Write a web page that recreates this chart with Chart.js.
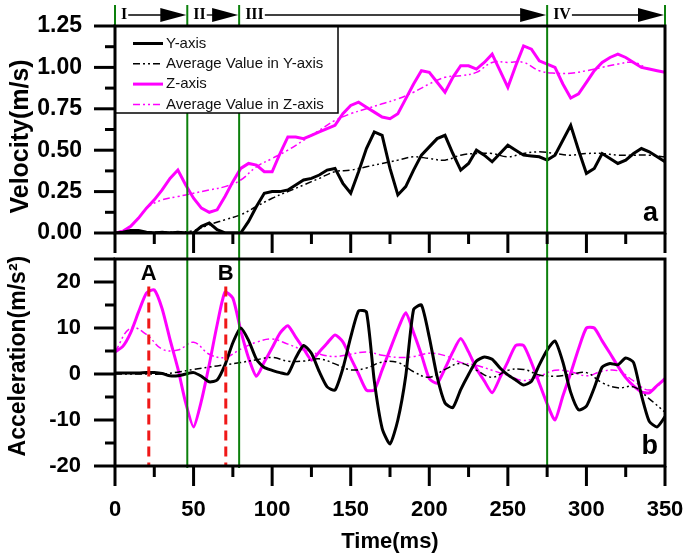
<!DOCTYPE html>
<html lang="en">
<head>
<meta charset="UTF-8">
<title>Velocity and Acceleration</title>
<script src="https://cdn.jsdelivr.net/npm/chart.js"></script>
<style>
  body { margin: 0; background: #fff; }
  .wrap { position: relative; width: 685px; height: 556px; }
  #velChart { position: absolute; left: 0; top: 0; }
  #accChart { position: absolute; left: 0; top: 256px; }
</style>
</head>
<body>
<div class="wrap">
  <canvas id="velChart" width="685" height="256"></canvas>
  <canvas id="accChart" width="685" height="300"></canvas>
</div>
<script>
// sample times (ms)
const timeMs = [0,5,10,15,20,25,30,35,40,45,50,55,60,65,70,75,80,85,90,95,
  100,105,110,115,120,125,130,135,140,145,150,155,160,165,170,175,180,185,190,195,
  200,205,210,215,220,225,230,235,240,245,250,255,260,265,270,275,280,285,290,295,
  300,305,310,315,320,325,330,335,340,345,350];
const avgTimeMs = [0,10,20,30,40,50,60,70,80,90,100,110,120,130,140,150,160,170,
  180,190,200,210,220,230,240,250,260,270,280,290,300,310,320,330,340,350];

// velocity (m/s)
const velY = [0,0.005,0.015,0.015,0.005,0,0.005,0,0.005,0,
  0,0.04,0.06,0.02,0,0,0,0.07,0.16,0.24,
  0.25,0.25,0.26,0.29,0.32,0.33,0.35,0.38,0.39,0.3,
  0.24,0.37,0.51,0.61,0.59,0.39,0.23,0.28,0.38,0.47,
  0.52,0.57,0.59,0.48,0.38,0.42,0.5,0.47,0.43,0.48,
  0.53,0.5,0.47,0.465,0.46,0.44,0.47,0.56,0.65,0.5,
  0.36,0.39,0.48,0.45,0.42,0.44,0.48,0.51,0.49,0.46,
  0.43];
const velYAvg = [0,0.005,0.005,0.005,0.005,0.015,0.05,0.08,0.11,0.16,
  0.21,0.25,0.29,0.33,0.37,0.38,0.4,0.42,0.44,0.46,
  0.45,0.44,0.47,0.48,0.48,0.46,0.48,0.49,0.48,0.47,
  0.48,0.48,0.47,0.47,0.47,0.46];
const velZ = [0,0.01,0.04,0.09,0.15,0.2,0.26,0.33,0.38,0.29,
  0.21,0.15,0.125,0.14,0.22,0.31,0.39,0.42,0.41,0.37,
  0.37,0.48,0.58,0.58,0.57,0.59,0.61,0.63,0.65,0.72,
  0.77,0.79,0.76,0.73,0.7,0.69,0.72,0.81,0.9,0.98,
  0.97,0.91,0.85,0.94,1.01,1.01,0.99,1.03,1.08,0.98,
  0.88,1.01,1.13,1.11,1.04,1.02,1.0,0.9,0.815,0.84,
  0.91,0.98,1.03,1.06,1.08,1.06,1.03,1.0,0.99,0.98,
  0.97];
const velZAvg = [0,0.04,0.15,0.2,0.22,0.24,0.26,0.28,0.32,0.4,
  0.45,0.5,0.56,0.62,0.68,0.72,0.75,0.78,0.81,0.85,
  0.9,0.94,0.95,0.97,1.03,1.03,1.03,0.98,0.965,0.965,
  0.98,1.0,1.02,1.03,0.99,0.97];

// acceleration (m/s2)
const accY = [0.2,0.2,0.2,0.2,0.3,0.3,0.1,-0.4,-0.4,0,
  0.3,-0.5,-1.7,-1.3,2,6.8,10,7.3,3.2,1.4,
  0.8,0.3,0,3.5,6.2,4.5,0.5,-2.8,-3.5,1.2,
  8,13.7,13.5,-1.5,-11.8,-15.2,-10,-0.5,14,15,
  8,-0.6,-6.3,-7.3,-3.4,-0.1,2.8,3.7,3.2,1.3,
  -0.2,-1.3,-2.4,-1.6,2,5.2,7.2,2.6,-4,-7.8,
  -7,-3,1.5,2.3,2,3.5,2.5,-4.6,-10.3,-11.5,
  -9.3];
const accYAvg = [0,0,0,0,0.4,1,1.5,2,2.5,3.1,
  3.6,2.8,2.8,3.3,2.2,0.9,1.3,2.6,2.5,0.5,
  -0.7,1,2.3,0.8,-0.7,0.8,1,-0.2,-0.5,-0.1,
  0.3,-1.9,-3,-2.8,-5.4,-8.3];
const accZ = [4.8,6,9,13.5,17.6,18.3,14.2,7.5,1.2,-6.3,
  -11.5,-5.8,2.1,10.7,17.8,16.5,9.5,3.5,-0.5,2.6,
  5.7,8.9,10.5,8,5.5,3,4.8,6.7,8.5,7,
  3.5,0,-3.5,-3.5,0.9,5.3,9.7,13.3,9,4.2,
  -1,-2,1.2,4.8,7.7,4.8,1.2,-1.5,-4.1,-0.8,
  2.7,6.2,6.2,2.5,-2,-6.5,-10,-4.8,0.2,5.5,
  10,10,7.2,4.5,1.7,-0.8,-2.6,-3.9,-4.1,-2.5,
  -1];
const accZAvg = [4.8,10,8.6,5.4,5.2,6.9,4.3,3.6,5.4,6.9,
  7.6,6.5,5.2,4.3,3.8,4.3,4.8,4.1,3.6,3.8,
  4.5,4,2.5,1.9,0.8,-0.3,-1.4,-0.5,0.8,0.5,
  -0.4,0.6,0.7,-1.5,-3.5,-1.2];

const seriesNames = ['Y-axis', 'Average Value in Y-axis', 'Z-axis', 'Average Value in Z-axis'];
const phaseNames = ['I', 'II', 'III', 'IV'];
const phaseBounds = [0, 46, 79, 275, 350];
const peakNames = ['A', 'B'];
const peakTimes = [21.5, 70.5];

const SANS = '"Liberation Sans", Arial, sans-serif';
const SERIF = '"Liberation Serif", "Times New Roman", serif';
const MAGENTA = '#ff00ff';
const GREEN = '#0c800c';
const dashDotDot = [7, 3, 2, 3, 2, 3];

function line(label, xs, ys, color, width, dash, tension) {
  return {
    label: label,
    data: xs.map((t, i) => ({ x: t, y: ys[i] })),
    borderColor: color,
    borderWidth: width,
    borderDash: dash,
    pointRadius: 0,
    tension: tension,
    fill: false
  };
}

// fixed axis sizes, and no extra room for overhanging labels
function fixSize(w, h) {
  return s => {
    if (w !== null) s.width = w;
    if (h !== null) s.height = h;
    s.paddingTop = 0; s.paddingBottom = 0;
    s.paddingLeft = 0; s.paddingRight = 0;
  };
}

// ticks (major + minor) and the heavy frame
function drawFrame(chart, xStep, yStep) {
  const ctx = chart.ctx, a = chart.chartArea;
  const xs = chart.scales.x, ys = chart.scales.y;
  ctx.save();
  ctx.setLineDash([]);
  ctx.strokeStyle = '#000';
  ctx.lineWidth = 3;
  const nx = Math.round((xs.max - xs.min) / (xStep / 2));
  for (let i = 0; i <= nx; i++) {
    const px = xs.getPixelForValue(xs.min + i * xStep / 2);
    ctx.beginPath();
    ctx.moveTo(px, a.bottom);
    ctx.lineTo(px, a.bottom + (i % 2 === 0 ? 20 : 11));
    ctx.stroke();
  }
  const ny = Math.round((ys.max - ys.min) / (yStep / 2));
  for (let i = 0; i <= ny; i++) {
    const py = ys.getPixelForValue(ys.min + i * yStep / 2);
    const major = i % 2 === 0 || i === ny;
    ctx.beginPath();
    ctx.moveTo(a.left, py);
    ctx.lineTo(a.left - (major ? 21 : 10), py);
    ctx.stroke();
  }
  ctx.strokeRect(a.left, a.top, a.right - a.left, a.bottom - a.top);
  ctx.restore();
}

function drawGreen(chart, yTop, yBottom, withEnds) {
  const ctx = chart.ctx, xs = chart.scales.x, a = chart.chartArea;
  ctx.save();
  ctx.strokeStyle = GREEN;
  ctx.lineWidth = 2;
  ctx.beginPath();
  phaseBounds.forEach((t, i) => {
    const px = xs.getPixelForValue(t);
    const end = i === 0 || i === phaseBounds.length - 1;
    if (end && !withEnds) return;
    ctx.moveTo(px, yTop);
    ctx.lineTo(px, end ? a.top : yBottom);
  });
  ctx.stroke();
  ctx.restore();
}

function drawCorner(chart, letter) {
  const ctx = chart.ctx, a = chart.chartArea;
  ctx.save();
  ctx.fillStyle = '#000';
  ctx.font = 'bold 27px ' + SANS;
  ctx.textAlign = 'right';
  ctx.textBaseline = 'alphabetic';
  ctx.fillText(letter, a.right - 7, a.bottom - 12);
  ctx.restore();
}

const velDecor = {
  id: 'velDecor',
  afterDatasetsDraw(chart) {
    const ctx = chart.ctx, a = chart.chartArea, xs = chart.scales.x;
    drawGreen(chart, 5, chart.height, true);

    // phase arrows above the plot
    ctx.save();
    ctx.fillStyle = '#000';
    ctx.strokeStyle = '#000';
    ctx.font = 'bold 16px ' + SERIF;
    ctx.textBaseline = 'middle';
    ctx.textAlign = 'left';
    const y = 15;
    phaseNames.forEach((name, i) => {
      const x0 = xs.getPixelForValue(phaseBounds[i]);
      const x1 = xs.getPixelForValue(phaseBounds[i + 1]);
      ctx.fillText(name, x0 + 6, y);
      const tx = x0 + 6 + ctx.measureText(name).width + 1;
      ctx.lineWidth = 1.3;
      ctx.beginPath();
      ctx.moveTo(tx, y);
      ctx.lineTo(x1 - 24, y);
      ctx.stroke();
      ctx.beginPath();
      ctx.moveTo(x1 - 27, y - 7);
      ctx.lineTo(x1 - 1, y);
      ctx.lineTo(x1 - 27, y + 7);
      ctx.closePath();
      ctx.fill();
    });

    // legend box
    const w = 223, h = 87;
    ctx.fillStyle = '#fff';
    ctx.fillRect(a.left, a.top, w, h);
    ctx.strokeStyle = '#000';
    ctx.lineWidth = 1.5;
    ctx.strokeRect(a.left, a.top, w, h);
    ctx.font = '15px ' + SANS;
    chart.data.datasets.forEach((ds, i) => {
      const ly = a.top + 17.5 + i * 20.3;
      ctx.strokeStyle = ds.borderColor;
      ctx.lineWidth = ds.borderWidth;
      ctx.setLineDash(ds.borderDash);
      ctx.beginPath();
      ctx.moveTo(a.left + 18, ly);
      ctx.lineTo(a.left + 48, ly);
      ctx.stroke();
      ctx.setLineDash([]);
      ctx.fillStyle = '#111';
      ctx.fillText(ds.label, a.left + 51, ly);
    });
    ctx.restore();

    drawCorner(chart, 'a');
    drawFrame(chart, 50, 0.25);
  }
};

const accDecor = {
  id: 'accDecor',
  afterDatasetsDraw(chart) {
    const ctx = chart.ctx, a = chart.chartArea, xs = chart.scales.x, ys = chart.scales.y;
    drawGreen(chart, 0, a.bottom + 2, false);

    // red dashed markers at the two peaks
    ctx.save();
    ctx.strokeStyle = '#f01818';
    ctx.lineWidth = 3;
    ctx.setLineDash([10, 6]);
    ctx.fillStyle = '#000';
    ctx.font = 'bold 22px ' + SANS;
    ctx.textAlign = 'center';
    ctx.textBaseline = 'middle';
    peakTimes.forEach((t, i) => {
      const px = xs.getPixelForValue(t);
      ctx.beginPath();
      ctx.moveTo(px, ys.getPixelForValue(19));
      ctx.lineTo(px, a.bottom);
      ctx.stroke();
      ctx.fillText(peakNames[i], px, ys.getPixelForValue(21.7));
    });
    ctx.restore();

    drawCorner(chart, 'b');
    drawFrame(chart, 50, 10);
  }
};

const noGrid = { display: false, drawTicks: false };
const noBorder = { display: false };

new Chart(document.getElementById('velChart'), {
  type: 'line',
  data: {
    datasets: [
      line(seriesNames[0], timeMs, velY, '#000', 3, [], 0),
      line(seriesNames[1], avgTimeMs, velYAvg, '#000', 1.5, dashDotDot, 0.4),
      line(seriesNames[2], timeMs, velZ, MAGENTA, 3, [], 0),
      line(seriesNames[3], avgTimeMs, velZAvg, MAGENTA, 1.5, dashDotDot, 0.4)
    ]
  },
  options: {
    responsive: false,
    animation: false,
    devicePixelRatio: 1,
    layout: { padding: { top: 26, right: 20, left: 0, bottom: 0 } },
    plugins: { legend: { display: false }, tooltip: { enabled: false } },
    scales: {
      x: {
        type: 'linear', min: 0, max: 350,
        grid: noGrid, border: noBorder,
        ticks: { display: false, stepSize: 50 },
        afterFit: fixSize(null, 23)
      },
      y: {
        min: 0, max: 1.25,
        grid: noGrid, border: noBorder,
        ticks: {
          stepSize: 0.25, padding: 33, color: '#000',
          font: { family: SANS, size: 23, weight: 'bold' },
          callback: v => v.toFixed(2)
        },
        title: {
          display: true, text: 'Velocity(m/s)  ', color: '#000',
          font: { family: SANS, size: 25, weight: 'bold' },
          padding: { top: 6, bottom: 0 }
        },
        afterFit: fixSize(115, null)
      }
    }
  },
  plugins: [velDecor]
});

new Chart(document.getElementById('accChart'), {
  type: 'line',
  data: {
    datasets: [
      line(seriesNames[0], timeMs, accY, '#000', 3, [], 0.2),
      line(seriesNames[1], avgTimeMs, accYAvg, '#000', 1.5, dashDotDot, 0.4),
      line(seriesNames[2], timeMs, accZ, MAGENTA, 3, [], 0.2),
      line(seriesNames[3], avgTimeMs, accZAvg, MAGENTA, 1.5, dashDotDot, 0.4)
    ]
  },
  options: {
    responsive: false,
    animation: false,
    devicePixelRatio: 1,
    layout: { padding: { top: 3, right: 20, left: 0, bottom: 0 } },
    plugins: { legend: { display: false }, tooltip: { enabled: false } },
    scales: {
      x: {
        type: 'linear', min: 0, max: 350,
        grid: noGrid, border: noBorder,
        ticks: {
          stepSize: 50, padding: 31, color: '#000',
          font: { family: SANS, size: 22, weight: 'bold' }
        },
        title: {
          display: true, text: 'Time(ms)', color: '#000',
          font: { family: SANS, size: 22, weight: 'bold' },
          padding: { top: 0, bottom: 1 }
        },
        afterFit: fixSize(null, 90)
      },
      y: {
        min: -20, max: 25,
        grid: noGrid, border: noBorder,
        ticks: {
          stepSize: 10, includeBounds: false, padding: 34, color: '#000',
          font: { family: SANS, size: 22, weight: 'bold' }
        },
        title: {
          display: true, text: '  Acceleration(m/s²)', color: '#000',
          font: { family: SANS, size: 23, weight: 'bold' },
          padding: { top: 5, bottom: 0 }
        },
        afterFit: fixSize(115, null)
      }
    }
  },
  plugins: [accDecor]
});
</script>
</body>
</html>
